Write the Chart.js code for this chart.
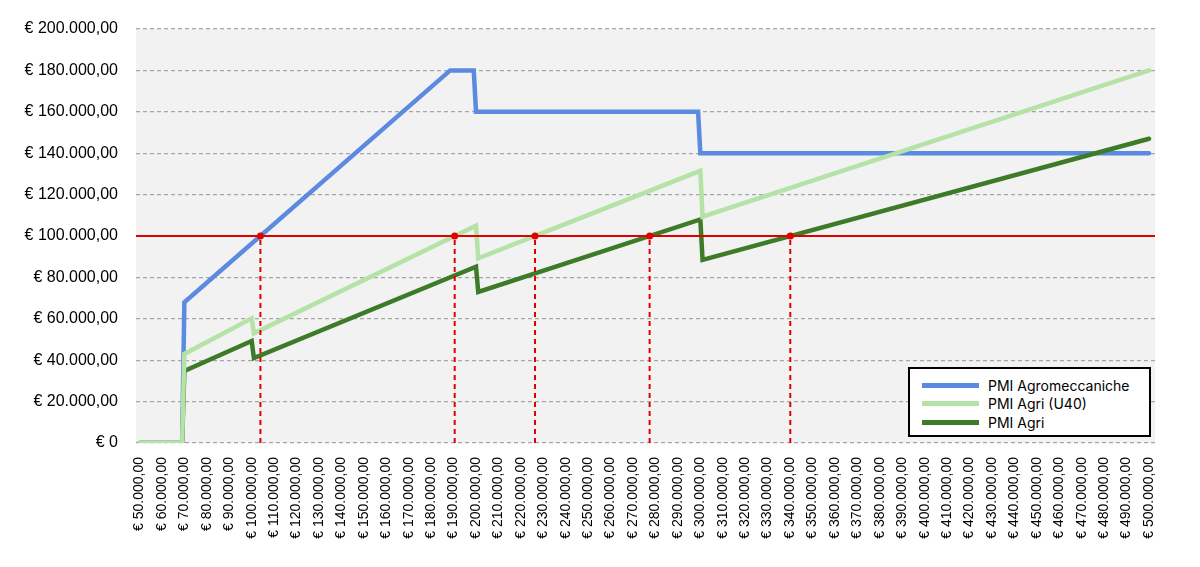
<!DOCTYPE html>
<html>
<head>
<meta charset="utf-8">
<title>PMI</title>
<script src="https://cdn.jsdelivr.net/npm/chart.js@4.4.1/dist/chart.umd.min.js"></script>
<style>
    html, body { margin: 0; padding: 0; background: #fff; }
    #wrap { position: relative; width: 1200px; height: 567px; }
    #legend {
        position: absolute; left: 908px; top: 367px; width: 239px; height: 66px;
        border: 2px solid #000; background: #fff;
        font-family: Inter, 'Liberation Sans', sans-serif; font-size: 14px; color: #000;
    }
    #legend .item { position: absolute; left: 12px; height: 18px; display: flex; align-items: center; white-space: nowrap; }
    #legend .swatch { width: 57px; height: 5px; margin-right: 9px; }
</style>
</head>
<body>
<div id="wrap">
    <canvas id="myChart" width="1200" height="567"></canvas>
    <div id="legend"></div>
</div>
<script>
// Series (x = importo, y = valore)
const seriesNames = ['PMI Agromeccaniche', 'PMI Agri (U40)', 'PMI Agri'];
const seriesColors = ['#5b8be0', '#b5e2a6', '#3e7b28'];

const agromeccX = [50000, 69000, 70000, 188500, 199000, 200000, 299000, 300000, 500000];
const agromeccY = [0, 0, 68000, 180000, 180000, 160000, 160000, 140000, 140000];

const agriU40X = [50000, 69000, 70000, 100000, 101000, 200000, 201000, 300000, 301000, 500000];
const agriU40Y = [0, 0, 43000, 60200, 53000, 105000, 89200, 131500, 109300, 180000];

const agriX = [50000, 69000, 70000, 100000, 101000, 200000, 201000, 300000, 301000, 500000];
const agriY = [0, 0, 34800, 49300, 41000, 85200, 73000, 108000, 88500, 147000];

// Soglia 100.000 and where the series cross it
const threshold = 100000;
const crossings = [103900, 190500, 226300, 277400, 340100];

// Axis bounds
const xMin = 48440, xMax = 502680, xFirstTick = 50000, xLastTick = 500000, xStep = 10000;
const yMin = 0, yMax = 200000, yStep = 20000;

function euro(v) {
    if (v === 0) return '€ 0';
    const s = Math.round(v).toString().replace(/\B(?=(\d{3})+(?!\d))/g, '.');
    return '€ ' + s + ',00';
}

function points(xs, ys) {
    return xs.map((x, i) => ({ x: x, y: ys[i] }));
}

// Grey plot area
const plotBg = {
    id: 'plotBg',
    beforeDraw(chart) {
        const { ctx, chartArea: a } = chart;
        ctx.save();
        ctx.fillStyle = '#f2f2f2';
        ctx.fillRect(a.left, a.top, a.right - a.left, a.bottom - a.top);
        ctx.restore();
    }
};

const red = '#e00000';
const lineStyle = { pointRadius: 0, borderWidth: 4.5, tension: 0, fill: false, borderCapStyle: 'round' };

const datasets = [];
crossings.forEach(c => {
    datasets.push({
        data: [{ x: c, y: 0 }, { x: c, y: threshold }],
        borderColor: red, borderWidth: 2, borderDash: [5, 4],
        pointRadius: [0, 3.5], pointBackgroundColor: red, pointBorderWidth: 0
    });
});
datasets.push({
    data: [{ x: xMin, y: threshold }, { x: xMax, y: threshold }],
    borderColor: red, borderWidth: 2, pointRadius: 0
});
// drawing order: U40 on top, then Agri, then Agromeccaniche
datasets.push({ label: seriesNames[1], data: points(agriU40X, agriU40Y), borderColor: seriesColors[1], ...lineStyle });
datasets.push({ label: seriesNames[2], data: points(agriX, agriY), borderColor: seriesColors[2], ...lineStyle });
datasets.push({ label: seriesNames[0], data: points(agromeccX, agromeccY), borderColor: seriesColors[0], ...lineStyle });

const font = "'Liberation Sans', Arial, sans-serif";

new Chart(document.getElementById('myChart'), {
    type: 'line',
    data: { datasets: datasets },
    options: {
        responsive: false,
        animation: false,
        layout: { padding: { top: 29, right: 45, left: 0, bottom: 0 } },
        plugins: { legend: { display: false }, tooltip: { enabled: false } },
        scales: {
            x: {
                type: 'linear', min: xMin, max: xMax,
                afterBuildTicks: s => {
                    const ticks = [];
                    for (let v = xFirstTick; v <= xLastTick; v += xStep) ticks.push({ value: v });
                    s.ticks = ticks;
                },
                afterFit: s => { s.height = 124; },
                ticks: {
                    autoSkip: false,
                    minRotation: 90, maxRotation: 90, padding: 14,
                    color: '#000', font: { family: font, size: 14 },
                    callback: v => euro(v)
                },
                grid: { display: false, drawTicks: false },
                border: { display: false }
            },
            y: {
                min: yMin, max: yMax,
                afterFit: s => { s.width = 136; },
                ticks: {
                    stepSize: yStep, padding: 18,
                    color: '#000', font: { family: font, size: 16 },
                    callback: v => euro(v)
                },
                grid: { color: '#a6a6a6', lineWidth: 1.3, drawTicks: false },
                border: { display: false, dash: [4, 3] }
            }
        }
    },
    plugins: [plotBg]
});

// Legend box
const legend = document.getElementById('legend');
const rowTops = [7, 25, 44];
seriesNames.forEach((name, i) => {
    const item = document.createElement('div');
    item.className = 'item';
    item.style.top = rowTops[i] + 'px';
    const sw = document.createElement('span');
    sw.className = 'swatch';
    sw.style.background = seriesColors[i];
    const label = document.createElement('span');
    label.textContent = name;
    item.appendChild(sw);
    item.appendChild(label);
    legend.appendChild(item);
});
</script>
</body>
</html>
